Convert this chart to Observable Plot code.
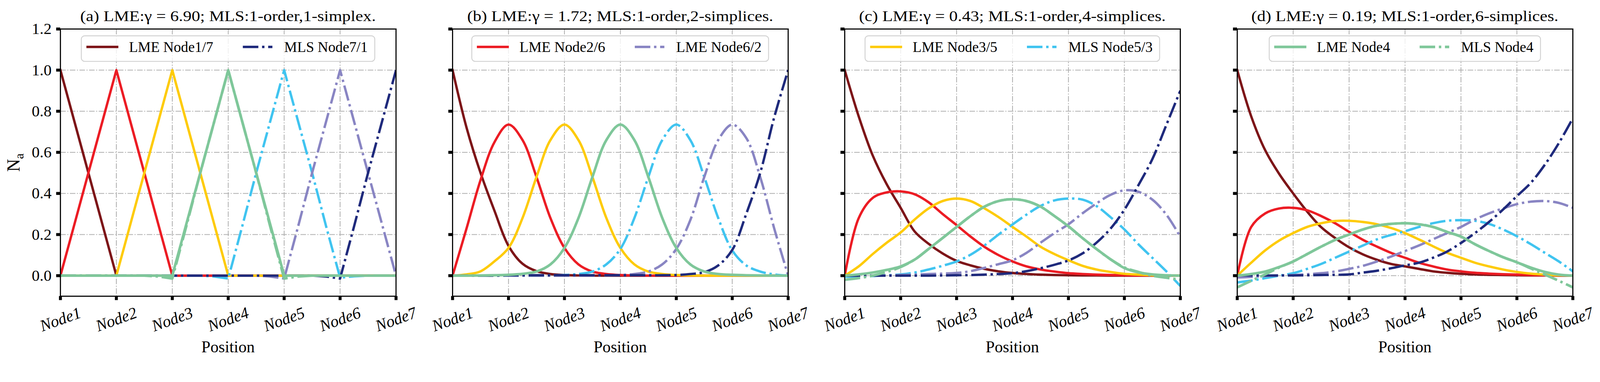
<!DOCTYPE html>
<html>
<head>
<meta charset="utf-8">
<script src="https://cdn.jsdelivr.net/npm/d3@7"></script>
<script src="https://cdn.jsdelivr.net/npm/@observablehq/plot@0.6"></script>
<style>
html, body { margin: 0; padding: 0; background: #fff; overflow: hidden; }
#root { position: relative; width: 4329px; height: 978px; overflow: hidden; transform-origin: 0 0; font-family: "Liberation Serif", "Times New Roman", serif; }
#root svg, #root svg text { font-family: "Liberation Serif", "Times New Roman", serif !important; }
.panel { position: absolute; }
#overlay { position: absolute; left: 0; top: 0; z-index: 4; }
</style>
</head>
<body>
<div id="root"></div>
<script>
// ---------- categories / ticks ----------
const xs = [1, 1.25, 1.5, 1.75, 2, 2.25, 2.5, 2.75, 3, 3.25, 3.5, 3.75, 4, 4.25, 4.5, 4.75, 5, 5.25, 5.5, 5.75, 6, 6.25, 6.5, 6.75, 7];
const nodeTicks = [1, 2, 3, 4, 5, 6, 7];
const nodeLabels = ["Node1", "Node2", "Node3", "Node4", "Node5", "Node6", "Node7"];
const yTicks = [0, 0.2, 0.4, 0.6, 0.8, 1.0, 1.2];
const gridYTicks = [0, 0.2, 0.4, 0.6, 0.8, 1.0];
const gridXTicks = [2, 3, 4, 5, 6];
const titles = [
  "(a) LME:γ = 6.90; MLS:1-order,1-simplex.",
  "(b) LME:γ = 1.72; MLS:1-order,2-simplices.",
  "(c) LME:γ = 0.43; MLS:1-order,4-simplices.",
  "(d) LME:γ = 0.19; MLS:1-order,6-simplices."
];
const legendLabels = [
  ["LME Node1/7", "MLS Node7/1"],
  ["LME Node2/6", "LME Node6/2"],
  ["LME Node3/5", "MLS Node5/3"],
  ["LME Node4", "MLS Node4"]
];

// ---------- series values ----------
// (a) gamma = 6.90
const a1  = [1,0.75,0.5,0.25,0, 0,0,0,0, 0,0,0,0, 0,0,0,0, 0,0,0,0, 0,0,0,0];
const a2  = [0,0.25,0.5,0.75,1, 0.75,0.5,0.25,0, 0,0,0,0, 0,0,0,0, 0,0,0,0, 0,0,0,0];
const a3  = [0,0,0,0,0, 0.25,0.5,0.75,1, 0.75,0.5,0.25,0, 0,0,0,0, 0,0,0,0, 0,0,0,0];
const a4  = [0,0,0,0,0, 0,0,0,0, 0.25,0.5,0.75,1, 0.75,0.5,0.25,0, 0,0,0,0, 0,0,0,0];
const a4m = [0,0,0,0,0, 0,0,-0.004,-0.014, 0.24,0.5,0.75,1, 0.75,0.5,0.24,-0.014, -0.004,0,0,0, 0,0,0,0];
const a5  = [0,0,0,0,0, 0,0,0,0, 0,0,-0.004,-0.014, 0.24,0.5,0.75,1, 0.75,0.5,0.24,-0.01, -0.003,0,0,0];
const a6  = [0,0,0,0,0, 0,0,0,0, 0,0,0,0, 0,0,-0.004,-0.014, 0.24,0.5,0.75,1, 0.75,0.5,0.25,0];
const a7  = [0,0,0,0,0, 0,0,0,0, 0,0,0,0, 0,0,0,0, 0,0,-0.004,-0.014, 0.24,0.5,0.75,1];
// (b) gamma = 1.72
const b1  = [1,0.72,0.5,0.315,0.145, 0.058,0.022,0.008,0.003, 0.001,0,0,0, 0,0,0,0, 0,0,0,0, 0,0,0,0];
const b2  = [0,0.23,0.465,0.65,0.735, 0.66,0.48,0.28,0.135, 0.055,0.02,0.008,0.003, 0.001,0,0,0, 0,0,0,0, 0,0,0,0];
const b3  = [0,0.006,0.021,0.07,0.135, 0.28,0.48,0.66,0.735, 0.66,0.48,0.28,0.135, 0.055,0.02,0.008,0.003, 0.001,0,0,0, 0,0,0,0];
const b4  = [0,0,0.001,0.002,0.004, 0.009,0.02,0.055,0.135, 0.28,0.48,0.66,0.735, 0.66,0.48,0.28,0.135, 0.055,0.02,0.008,0.004, 0.002,0.001,0,0];
const b5  = [0,0,0,0,0, 0,0,0.001,0.003, 0.008,0.02,0.055,0.13, 0.28,0.48,0.66,0.735, 0.66,0.48,0.28,0.123, 0.05,0.02,0.006,0];
const b6  = [0,0,0,0,0, 0,0,0,0, 0,0,0.001,0.003, 0.008,0.02,0.055,0.13, 0.27,0.48,0.66,0.735, 0.67,0.48,0.23,0];
const b7  = [0,0,0,0,0.002, 0.002,0.002,0.002,0.002, 0.002,0.002,0.002,0.002, 0.002,0.002,0.002,0.003, 0.008,0.017,0.05,0.125, 0.3,0.5,0.77,1];
// (c) gamma = 0.43
const c1  = [1,0.775,0.585,0.445,0.33, 0.215,0.155,0.108,0.072, 0.05,0.033,0.021,0.013, 0.008,0.005,0.003,0.002, 0.001,0.001,0,0, 0,0,0,0];
const c2  = [0,0.28,0.378,0.405,0.41, 0.396,0.357,0.3,0.246, 0.19,0.14,0.1,0.069, 0.045,0.03,0.02,0.012, 0.008,0.005,0.003,0.002, 0.001,0.001,0,0];
const c3  = [0,0.045,0.105,0.16,0.21, 0.273,0.327,0.363,0.375, 0.363,0.327,0.285,0.237, 0.19,0.141,0.105,0.075, 0.048,0.03,0.018,0.009, 0.005,0.002,0.001,0];
const c4  = [0,0.006,0.015,0.028,0.045, 0.078,0.13,0.183,0.237, 0.29,0.336,0.363,0.372, 0.363,0.336,0.29,0.24, 0.183,0.13,0.08,0.037, 0.016,0.006,0.002,0];
const c4m = [-0.02,-0.012,0,0.018,0.042, 0.078,0.13,0.183,0.237, 0.29,0.336,0.363,0.372, 0.363,0.336,0.29,0.24, 0.183,0.13,0.08,0.04, 0.018,0,-0.01,-0.02];
const c5  = [-0.005,-0.004,-0.002,0.002,0.006, 0.015,0.03,0.048,0.069, 0.102,0.147,0.2,0.249, 0.297,0.339,0.366,0.375, 0.37,0.339,0.285,0.225, 0.153,0.087,0.021,-0.05];
const c6  = [0,0,0,0.001,0.003, 0.005,0.008,0.01,0.013, 0.022,0.038,0.056,0.075, 0.111,0.16,0.207,0.25, 0.303,0.351,0.393,0.415, 0.408,0.37,0.297,0.189];
const c7  = [0,0,0,0,0, 0,0,0.001,0.002, 0.003,0.005,0.008,0.012, 0.022,0.036,0.053,0.074, 0.108,0.16,0.228,0.321, 0.44,0.567,0.733,0.9];
// (d) gamma = 0.19
const d1  = [1,0.775,0.61,0.495,0.4, 0.312,0.236,0.183,0.138, 0.103,0.077,0.057,0.045, 0.033,0.021,0.014,0.009, 0.006,0.004,0.003,0.002, 0.001,0.001,0,0];
const d2  = [0,0.237,0.303,0.327,0.33, 0.318,0.29,0.255,0.213, 0.174,0.141,0.111,0.087, 0.063,0.045,0.03,0.021, 0.014,0.01,0.007,0.005, 0.003,0.002,0.001,0];
const d3  = [0,0.063,0.123,0.171,0.207, 0.237,0.255,0.266,0.267, 0.261,0.25,0.232,0.207, 0.176,0.143,0.112,0.087, 0.063,0.045,0.03,0.018, 0.01,0.005,0.002,0];
const d4  = [0,0.008,0.02,0.042,0.069, 0.105,0.141,0.174,0.2, 0.225,0.243,0.252,0.255, 0.25,0.237,0.213,0.19, 0.153,0.12,0.09,0.065, 0.039,0.018,0.005,0];
const d4m = [-0.057,-0.025,0.006,0.04,0.069, 0.105,0.141,0.174,0.2, 0.225,0.243,0.252,0.255, 0.25,0.237,0.213,0.19, 0.153,0.12,0.09,0.065, 0.035,0.005,-0.025,-0.057];
const d5  = [-0.033,-0.024,-0.012,0,0.012, 0.033,0.057,0.087,0.117, 0.147,0.177,0.198,0.216, 0.237,0.255,0.267,0.27, 0.267,0.252,0.225,0.192, 0.153,0.111,0.069,0.021];
const d6  = [-0.009,-0.006,-0.002,0.001,0.003, 0.007,0.012,0.02,0.033, 0.048,0.069,0.093,0.12, 0.147,0.177,0.207,0.237, 0.273,0.303,0.327,0.348, 0.36,0.363,0.354,0.33];
const d7  = [0.002,0.001,0.001,0.001,0.001, 0.002,0.003,0.004,0.006, 0.015,0.024,0.036,0.05, 0.063,0.087,0.117,0.159, 0.207,0.261,0.321,0.387, 0.452,0.54,0.645,0.766];

// ---------- styles / layout ----------
const colors = { n1: "#7d1518", n2: "#ec1c24", n3: "#fecb0a", n4: "#7fc79a", n5: "#40c4f0", n6: "#8985c3", n7: "#1f2a7c" };
const DASHDOT = "42,10,6.5,10";
const panelLeft = [163, 1224, 2285, 3347];
const frameTop = 78, frameW = 908, frameH = 723;
const mL = 150, mR = 10, mT = 10, mB = 150;
const titleWidths = [800, 828, 830, 831];
const legendTextWidths = [[228, 226], [232, 231], [229, 228], [198, 196]];

// draw order: bottom -> top
const panels = [
  [["n1", a1, false], ["n2", a2, false], ["n3", a3, false], ["n5", a5, true], ["n6", a6, true], ["n7", a7, true], ["n4", a4m, true], ["n4", a4, false]],
  [["n1", b1, false], ["n2", b2, false], ["n3", b3, false], ["n5", b5, true], ["n6", b6, true], ["n7", b7, true], ["n4", b4, false]],
  [["n1", c1, false], ["n2", c2, false], ["n3", c3, false], ["n5", c5, true], ["n6", c6, true], ["n7", c7, true], ["n4", c4m, true], ["n4", c4, false]],
  [["n1", d1, false], ["n2", d2, false], ["n3", d3, false], ["n5", d5, true], ["n6", d6, true], ["n7", d7, true], ["n4", d4m, true], ["n4", d4, false]]
];
const legendSpec = [
  [["n1", false], ["n7", true]],
  [["n2", false], ["n6", true]],
  [["n3", false], ["n5", true]],
  [["n4", false], ["n4", true]]
];

const root = document.getElementById("root");
const SVGNS = "http://www.w3.org/2000/svg";
function svgEl(tag, attrs, text) {
  const el = document.createElementNS(SVGNS, tag);
  for (const k in attrs) if (attrs[k] != null) el.setAttribute(k, attrs[k]);
  if (text != null) el.textContent = text;
  return el;
}

panels.forEach((series, p) => {
  const marks = [
    Plot.gridY(gridYTicks, { stroke: "#b0b0b0", strokeOpacity: 1, strokeWidth: 2.2, strokeDasharray: "15,4,3,4" }),
    Plot.gridX(gridXTicks, { stroke: "#b0b0b0", strokeOpacity: 1, strokeWidth: 2.2, strokeDasharray: "15,4,3,4" }),
    ...series.map(([key, vals, dashed]) =>
      Plot.line(xs.map((x, j) => ({ x, y: vals[j] })), {
        x: "x", y: "y",
        stroke: colors[key],
        strokeWidth: key === "n4" ? 7 : 6.5,
        strokeDasharray: dashed ? DASHDOT : null,
        strokeLinecap: dashed ? "butt" : "square",
        strokeLinejoin: "round",
        curve: p === 0 ? "linear" : "catmull-rom",
        clip: true
      })),
    Plot.frame({ stroke: "#000", strokeWidth: 3 }),
    Plot.axisY(yTicks, {
      anchor: "left", tickSize: 11, strokeWidth: 8, tickPadding: 13, fontSize: 43,
      tickFormat: p === 0 ? (d => d.toFixed(1)) : (() => ""), label: null
    }),
    Plot.axisX(nodeTicks, { anchor: "bottom", tickSize: 11, strokeWidth: 8, tickFormat: () => "", label: null }),
    Plot.text(nodeTicks, {
      x: d => d, text: (d, i) => nodeLabels[i], frameAnchor: "bottom", dy: 63, rotate: -20,
      fontSize: 44, fontStyle: "italic", textAnchor: "middle", lineAnchor: "middle", fill: "#000"
    })
  ];
  const chart = Plot.plot({
    width: mL + frameW + mR, height: mT + frameH + mB,
    marginLeft: mL, marginRight: mR, marginTop: mT, marginBottom: mB,
    x: { domain: [1, 7] },
    y: { domain: [-0.1, 1.2] },
    style: { background: "transparent", overflow: "visible", fontSize: "43px", color: "#000" },
    marks
  });
  const wrap = document.createElement("div");
  wrap.className = "panel";
  wrap.style.left = (panelLeft[p] - mL) + "px";
  wrap.style.top = (frameTop - mT) + "px";
  wrap.style.width = (mL + frameW + mR) + "px";
  wrap.appendChild(chart);
  root.appendChild(wrap);
});

// ---------- overlay: titles, axis labels, legends ----------
const ov = svgEl("svg", { id: "overlay", width: 4329, height: 978 });
root.appendChild(ov);
panelLeft.forEach((L, p) => {
  const cx = L + frameW / 2;
  ov.appendChild(svgEl("text", { x: cx, y: 57, "text-anchor": "middle", "font-size": 41,
    textLength: titleWidths[p], lengthAdjust: "spacingAndGlyphs" }, titles[p]));
  ov.appendChild(svgEl("text", { x: cx, y: 953, "text-anchor": "middle", "font-size": 44 }, "Position"));

  // legend (upper center)
  const [w1, w2] = legendTextWidths[p];
  const boxW = 17 + 80 + 32 + w1 + 80 + 80 + 32 + w2 + 19;
  const bx = cx - boxW / 2, by = 97, bh = 69;
  const g = svgEl("g", {});
  g.appendChild(svgEl("rect", { x: bx, y: by, width: boxW, height: bh, rx: 9, ry: 9,
    fill: "#fff", "fill-opacity": 0.8, stroke: "#d2d2d2", "stroke-width": 2.5 }));
  let x0 = bx + 17;
  legendSpec[p].forEach(([key, dashed], k) => {
    g.appendChild(svgEl("line", { x1: x0, x2: x0 + 80, y1: 127, y2: 127, stroke: colors[key],
      "stroke-width": key === "n4" ? 7 : 6.5, "stroke-linecap": dashed ? "butt" : "square",
      "stroke-dasharray": dashed ? DASHDOT : null }));
    const w = legendTextWidths[p][k];
    g.appendChild(svgEl("text", { x: x0 + 112, y: 141, "font-size": 40, textLength: w,
      lengthAdjust: "spacingAndGlyphs" }, legendLabels[p][k]));
    x0 += 112 + w + 80;
  });
  ov.appendChild(g);
});
const yl = svgEl("text", { transform: "translate(53,440) rotate(-90)", "text-anchor": "middle", "font-size": 48 });
yl.appendChild(svgEl("tspan", {}, "N"));
yl.appendChild(svgEl("tspan", { "font-size": 34, dy: 10 }, "a"));
ov.appendChild(yl);

// fit the 4329x978 layout into the actual viewport
function fit() {
  const s = Math.min(window.innerWidth / 4329, window.innerHeight / 978);
  root.style.transform = s < 0.999 ? `scale(${s})` : "";
}
fit();
window.addEventListener("resize", fit);
</script>
</body>
</html>
